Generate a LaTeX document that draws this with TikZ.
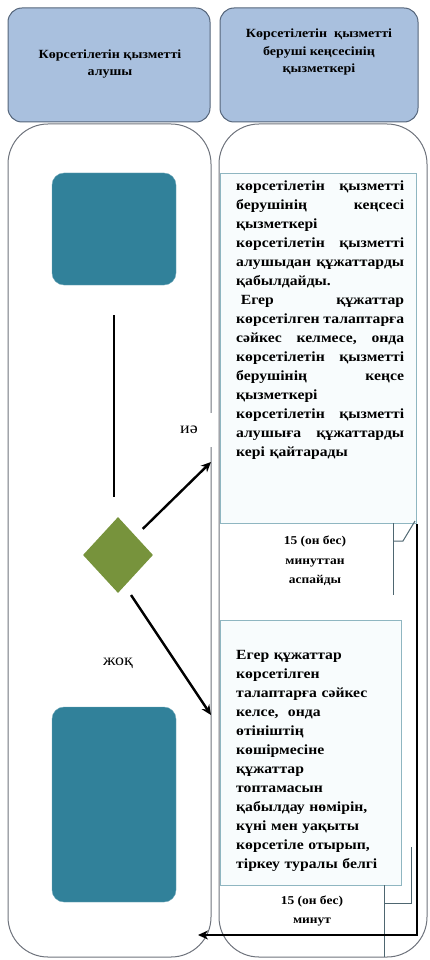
\documentclass[tikz,border=0pt]{standalone}
\usepackage{fontspec}
\setmainfont[FakeStretch=1.12]{Liberation Serif}
\usetikzlibrary{shapes.geometric,arrows.meta}
\definecolor{headfill}{HTML}{A9C0DE}
\definecolor{headdraw}{HTML}{55657A}
\definecolor{lanedraw}{HTML}{6E737C}
\definecolor{actfill}{HTML}{31819A}
\definecolor{decfill}{HTML}{77933C}
\definecolor{boxdraw}{HTML}{8FB6C1}
\definecolor{boxfill}{HTML}{F8FCFD}
\definecolor{notedraw}{HTML}{4E6670}
% one justified line of a text box (words split by \hfill)
\newcommand{\jline}[1]{\makebox[168pt]{#1}}
\tikzset{
  header/.style={draw=headdraw, fill=headfill, line width=1pt, rounded corners=14pt, minimum height=114pt},
  headtext/.style={align=center, inner sep=0pt, font=\fontsize{12.5}{17.5}\selectfont\bfseries},
  lane/.style={draw=lanedraw, line width=1pt, rounded corners=40pt, minimum height=833pt},
  act/.style={fill=actfill, draw=actfill!70!white, rounded corners=12pt, minimum width=124pt},
  decision/.style={diamond, fill=decfill, minimum width=70pt, minimum height=76pt, inner sep=0pt},
  textbox/.style={draw=boxdraw, fill=boxfill, line width=1.4pt, anchor=north west, inner sep=0pt},
  boxtext/.style={anchor=north west, inner sep=0pt, align=left, text width=168pt, font=\fontsize{14}{19}\selectfont\bfseries},
  note/.style={align=center, inner sep=0pt, font=\fontsize{12}{19.5}\selectfont\bfseries},
  noteline/.style={draw=notedraw, line width=1pt},
  flow/.style={-{Stealth[length=10pt,width=9pt]}, line width=2.4pt},
  branch/.style={font=\fontsize{16}{18}\selectfont},
}
\begin{document}
\begin{tikzpicture}[x=1pt,y=-1pt]
  \useasboundingbox (0,0) rectangle (429,960);
  % lanes
  \node[lane, minimum width=203pt] (laneL) at (109.5,540.5) {};
  \node[lane, minimum width=208pt] (laneR) at (323,540.5) {};
  % headers
  \node[header, minimum width=202pt] (headL) at (109,65) {};
  \node[header, minimum width=198pt] (headR) at (319,65) {};
  \node[headtext] (headLtxt) at (110,64) {Көрсетілетін қызметті\\алушы};
  \node[headtext] (headRtxt) at (319,52) {Көрсетілетін\ \ қызметті\\берушi кеңсесінің\\қызметкері};
  % left lane: actions and decision
  \node[act, minimum height=112pt] (app1) at (114,229) {};
  \node[act, minimum height=195pt] (app2) at (114,804.5) {};
  \node[decision] (dec) at (118,555) {};
  \draw[line width=2pt, shorten <=30pt, shorten >=20pt] (app1.south) -- (app1.south |- dec.north);
  % right lane: text boxes
  \node[textbox, minimum width=196pt, minimum height=350pt] (t1) at (220,173) {};
  \node[boxtext] (t1txt) at (236,181) {%
    \jline{көрсетілетін\hfill қызметті}\\
    \jline{берушінің\hfill кеңсесі}\\
    қызметкері\\
    \jline{көрсетілетін\hfill қызметті}\\
    \jline{алушыдан\hfill құжаттарды}\\
    қабылдайды.\\
    \jline{\ Егер\hfill құжаттар}\\
    \jline{көрсетілген\hfill талаптарға}\\
    \jline{сәйкес\hfill келмесе,\hfill онда}\\
    \jline{көрсетілетін\hfill қызметті}\\
    \jline{берушінің\hfill кеңсе}\\
    қызметкері\\
    \jline{көрсетілетін\hfill қызметті}\\
    \jline{алушыға\hfill құжаттарды}\\
    кері қайтарады};
  \node[textbox, minimum width=181pt, minimum height=265pt] (t2) at (220,620) {};
  \node[boxtext] (t2txt) at (236,650) {%
    Егер құжаттар\\
    көрсетілген\\
    талаптарға сәйкес\\
    келсе,\ \ онда\\
    өтініштің\\
    көшірмесіне\\
    құжаттар\\
    топтамасын\\
    қабылдау нөмірін,\\
    күні мен уақыты\\
    көрсетіле отырып,\\
    тіркеу туралы белгі};
  % time notes
  \node[note] (n1) at (315,561) {15 (он бес)\\минуттан\\аспайды};
  \node[note] (n2) at (312,911) {15 (он бес)\\минут};
  \draw[noteline] (393,523) -- (393,595);
  \draw[noteline] (393,541) -- (403,541) -- (415,521);
  \draw[noteline] (384,885) -- (384,957);
  \draw[noteline] (384,903) -- (411,903) -- (411,847);
  % decision branches
  \coordinate (yesend) at (211,462);
  \coordinate (nostart) at (131,595);
  \coordinate (noend) at (211,715);
  \coordinate (backend) at (198,935);
  \draw[flow, shorten <=10pt] (dec.north east) -- (yesend);
  \draw[flow] (nostart) -- (noend);
  \node[fill=white, minimum width=46pt, minimum height=34pt, branch] (yes) at (189,430) {иә};
  \node[branch] (no) at (118,663) {жоқ};
  % return to the applicant
  \draw[flow, line width=2pt] (t1.south east) -- (t1.south east |- backend) -- (backend);
\end{tikzpicture}
\end{document}
